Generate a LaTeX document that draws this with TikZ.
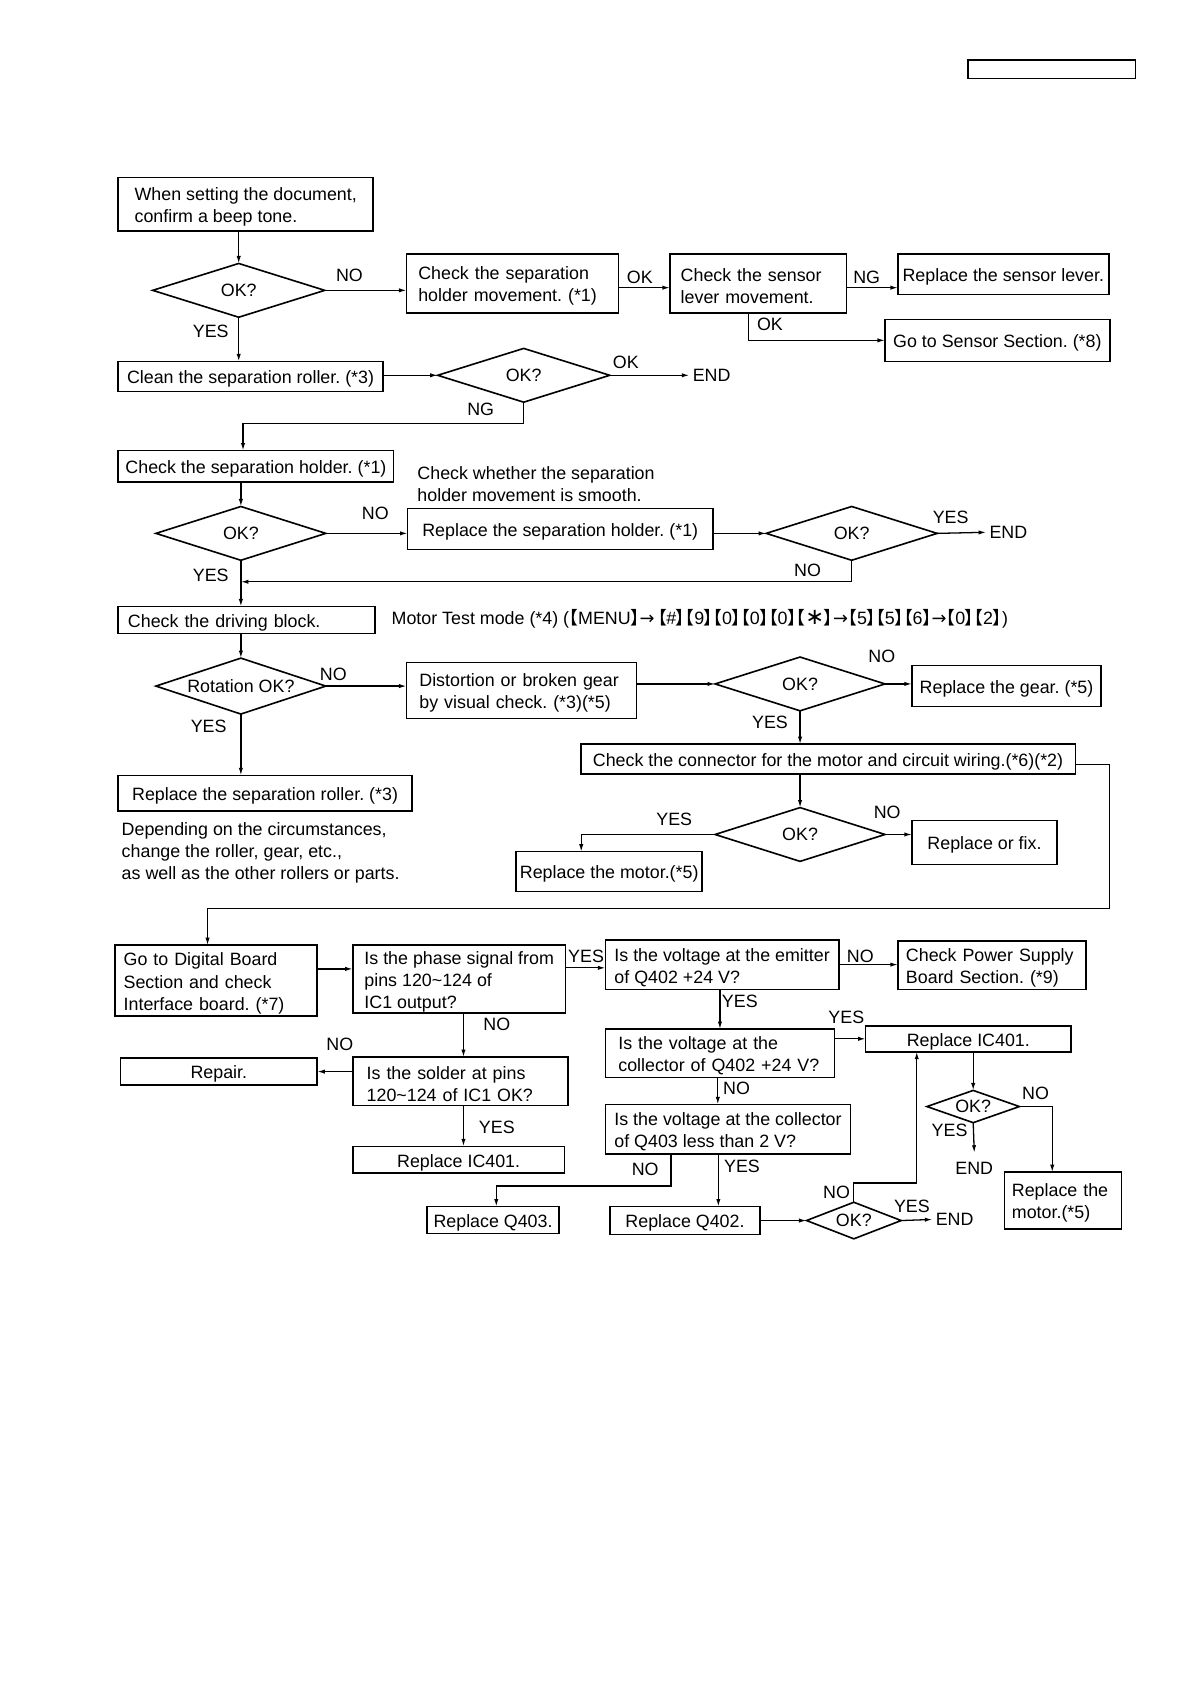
\documentclass[tikz,border=0pt]{standalone}
\usepackage{fontspec}
\setmainfont{Liberation Sans}
\newfontfamily\cjk[RawFeature=+palt]{Noto Sans CJK SC}
\newfontfamily\dejavu{DejaVu Sans}
\usetikzlibrary{arrows.meta}
\usetikzlibrary{shapes.geometric}
\frenchspacing

\newcommand{\keyb}[1]{{\cjk 【}#1{\cjk 】}}
\newcommand{\keyarrow}{{\dejavu →}}
\newcommand{\topstrut}{\rule{0pt}{17pt}}

\tikzset{
  box/.style={draw, line width=1.5pt, anchor=north west, inner xsep=2pt, inner ysep=0pt, outer sep=0pt, align=left,
    execute at begin node={\topstrut}},
  dec/.style={draw, diamond, shape aspect=3, line width=1.5pt, inner sep=0pt, outer sep=0pt},
  lbl/.style={inner sep=0pt},
  flow/.style={->, line width=1.2pt},
}

\begin{document}
\begin{tikzpicture}[x=1pt, y=-1pt, font=\fontsize{16.6}{20.5}\selectfont, >={Latex[length=7pt,width=4pt]}]
    \useasboundingbox (0,0) rectangle (1107,1566);

    \node[box, minimum width=156pt, minimum height=17pt] (hdr) at (900,56) {};

    % document setting and sensor lever
    \node[box, minimum width=237pt, minimum height=50pt] (beep) at (110,165) {\topstrut When setting the document,\\confirm a beep tone.};
    \node[dec, minimum width=160pt, minimum height=50pt] (d1) at (222,270) {OK?};
    \node[box, text width=175pt, inner xsep=11pt, minimum height=55pt] (holdmove) at (378,236) {Check the separation\\holder movement. (*1)};
    \node[box, text width=144pt, inner xsep=10pt, minimum height=55pt] (sensmove) at (623,236) {Check the sensor\\lever movement.};
    \node[box, minimum width=196pt, minimum height=38pt] (senslever) at (835,236) {Replace the sensor lever.};
    \node[box, minimum width=209pt, minimum height=39pt] (senssec) at (823,297) {Go to Sensor Section. (*8)};
    \node[box, minimum width=246pt, minimum height=28pt] (cleanroll) at (110,336) {Clean the separation roller. (*3)};
    \node[dec, minimum width=160pt, minimum height=50pt] (d2) at (487,349) {OK?};
    \node[lbl, inner xsep=3pt, anchor=west] (end1) at (641,349) {END};

    \node[lbl] (no1) at (325,256) {NO};
    \node[lbl] (okt1) at (595,258) {OK};
    \node[lbl] (ng1) at (806,258) {NG};
    \node[lbl] (okt2) at (716,302) {OK};
    \node[lbl] (yes1) at (196,308) {YES};
    \node[lbl] (okt3) at (582,337) {OK};
    \node[lbl] (ng2) at (447,381) {NG};

    \draw[flow] (d1.north |- beep.south) -- (d1.north);
    \draw[flow] (d1.east) -- (d1.east -| holdmove.west);
    \draw[flow] ([yshift=-4pt]holdmove.east) -- ([yshift=-4pt]holdmove.east -| sensmove.west);
    \draw[flow] ([yshift=-4pt]sensmove.east) -- ([yshift=-4pt]sensmove.east -| senslever.west);
    \draw[flow] ([xshift=-9pt]sensmove.south) |- (senssec.west);
    \draw[flow] (d1.south) -- (d1.south |- cleanroll.north);
    \draw[flow] (d2.west -| cleanroll.east) -- (d2.west);
    \draw[flow] (d2.east) -- (end1.west);

    % separation holder
    \node[box, minimum width=256pt, minimum height=29pt] (holdchk) at (110,419) {Check the separation holder. (*1)};
    \node[anchor=north west, align=left, inner sep=0pt] (smooth) at (388,434) {Check whether the separation\\holder movement is smooth.};
    \node[dec, minimum width=158pt, minimum height=50pt] (d3) at (224,496) {OK?};
    \node[box, minimum width=284pt, minimum height=38pt] (holdrepl) at (379,473) {Replace the separation holder. (*1)};
    \node[dec, minimum width=159pt, minimum height=50pt] (d4) at (792,496) {OK?};
    \node[lbl, inner xsep=3pt, anchor=west] (end2) at (917,495) {END};

    \node[lbl] (no2) at (349,477) {NO};
    \node[lbl] (yes2) at (884,481) {YES};
    \node[lbl] (no3) at (751,530) {NO};
    \node[lbl] (yes3) at (196,535) {YES};

    \draw[flow] (d2.south) -- ++(0,20) -| ([xshift=-12pt]holdchk.north);
    \draw[flow] (d3.north |- holdchk.south) -- (d3.north);
    \draw[flow] (d3.east) -- (d3.east -| holdrepl.west);
    \draw[flow] (d4.west -| holdrepl.east) -- (d4.west);
    \draw[flow] (d4.east) -- (end2.west);
    \coordinate (join) at ([yshift=-20pt]d4.south -| d3.south);
    \draw[flow] (d4.south) |- (join);

    % driving block and motor
    \node[box, text width=221pt, inner xsep=9pt, minimum height=25pt] (drive) at (110,564) {Check the driving block.};
    \node[anchor=base west, inner sep=0pt] (testmode) at (364,581) {Motor Test mode (*4) (\keyb{MENU}\keyarrow\,\keyb{\#}\keyb{9}\keyb{0}\keyb{0}\keyb{0}\keyb{{\dejavu\fontsize{21}{21}\selectfont ∗}}\keyarrow\keyb{5}\keyb{5}\keyb{6}\keyarrow\keyb{0}\keyb{2})};
    \node[dec, minimum width=158pt, minimum height=52pt] (d5) at (224,638) {Rotation OK?};
    \node[box, text width=190pt, inner xsep=12pt, minimum height=52pt] (gearvis) at (378,616) {Distortion or broken gear\\by visual check. (*3)(*5)};
    \node[dec, minimum width=158pt, minimum height=50pt] (d6) at (744,636) {OK?};
    \node[box, minimum width=176pt, minimum height=38pt] (gearrepl) at (848,619) {Replace the gear. (*5)};
    \node[box, minimum width=460pt, minimum height=28pt] (conn) at (540,692) {Check the connector for the motor and circuit wiring.(*6)(*2)};
    \node[box, minimum width=273pt, minimum height=33pt] (rollrepl) at (110,721) {Replace the separation roller. (*3)};
    \node[anchor=north west, align=left, inner sep=0pt] (circ) at (113,765) {Depending on the circumstances,\\change the roller, gear, etc.,\\as well as the other rollers or parts.};
    \node[dec, minimum width=158pt, minimum height=50pt] (d7) at (744,776) {OK?};
    \node[box, minimum width=135pt, minimum height=41pt] (fix) at (848,763) {Replace or fix.};
    \node[box, minimum width=173pt, minimum height=37pt] (motorrepl) at (480,792) {Replace the motor.(*5)};

    \node[lbl] (no4) at (820,610) {NO};
    \node[lbl] (no5) at (310,627) {NO};
    \node[lbl] (yes4) at (716,672) {YES};
    \node[lbl] (yes5) at (194,675) {YES};
    \node[lbl] (yes6) at (627,762) {YES};
    \node[lbl] (no6) at (825,755) {NO};

    \draw[flow] (d3.south) -- (d3.south |- drive.north);
    \draw[flow] (d5.north |- drive.south) -- (d5.north);
    \draw[flow] (d5.east) -- (d5.east -| gearvis.west);
    \draw[flow] (d6.west -| gearvis.east) -- (d6.west);
    \draw[flow] (d6.east) -- (d6.east -| gearrepl.west);
    \draw[flow] (d6.south) -- (d6.south |- conn.north);
    \draw[flow] (d7.north |- conn.south) -- (d7.north);
    \draw[flow] (d7.east) -- (d7.east -| fix.west);
    \draw[flow] (d7.west) -| ([xshift=-26pt]motorrepl.north);
    \draw[flow] (d5.south) -- (d5.south |- rollrepl.north);

    % digital board
    \node[box, text width=172pt, inner xsep=8pt, minimum height=66pt] (digi) at (107,879) {Go to Digital Board\\Section and check\\Interface board. (*7)};
    \node[box, minimum width=198pt, minimum height=63pt] (phase) at (328,879) {\topstrut Is the phase signal from\\pins 120\textasciitilde124 of\\IC1 output?};
    \node[box, minimum width=217pt, minimum height=46pt] (emit) at (563,874) {\topstrut Is the voltage at the emitter\\of Q402 +24 V?};
    \node[box, text width=160pt, inner xsep=7.5pt, minimum height=45pt] (psu) at (835,875) {Check Power Supply\\Board Section. (*9)};
    \node[box, text width=174pt, inner xsep=13pt, minimum height=45pt] (solder) at (328,983) {Is the solder at pins\\120\textasciitilde124 of IC1 OK?};
    \node[box, minimum width=183pt, minimum height=25pt] (repair) at (112,984) {Repair.};
    \node[box, minimum width=197pt, minimum height=25pt] (icrepa) at (328,1066) {Replace IC401.};
    \node[box, text width=189pt, inner xsep=12pt, minimum height=45pt] (coll) at (563,957) {Is the voltage at the\\collector of Q402 +24 V?};
    \node[box, minimum width=191pt, minimum height=24pt] (icrepb) at (805,954) {Replace IC401.};
    \node[box, minimum width=228pt, minimum height=46pt] (q403chk) at (563,1027) {\topstrut Is the voltage at the collector\\of Q403 less than 2 V?};
    \node[box, minimum width=123pt, minimum height=25pt] (q403repl) at (397,1122) {Replace Q403.};
    \node[box, minimum width=140pt, minimum height=26pt] (q402repl) at (567,1122) {Replace Q402.};
    \node[dec, minimum width=88pt, minimum height=34pt] (d8) at (794,1135) {OK?};
    \node[lbl, inner xsep=3pt, anchor=west] (end3) at (867,1134) {END};
    \node[dec, minimum width=86pt, minimum height=30pt] (d9) at (905,1029) {OK?};
    \node[lbl, inner ysep=9pt, anchor=north] (end4) at (906,1072) {END};
    \node[box, text width=95pt, inner xsep=7pt, minimum height=53pt] (motorreplb) at (934,1090) {Replace the\\motor.(*5)};

    \node[lbl] (yes7) at (545,889) {YES};
    \node[lbl] (no7) at (800,889) {NO};
    \node[lbl] (yes8) at (688,931) {YES};
    \node[lbl] (no8) at (462,953) {NO};
    \node[lbl] (yes9) at (787,946) {YES};
    \node[lbl] (no9) at (316,971) {NO};
    \node[lbl] (no10) at (963,1017) {NO};
    \node[lbl] (no11) at (685,1012) {NO};
    \node[lbl] (yes10) at (462,1048) {YES};
    \node[lbl] (yes11) at (883,1051) {YES};
    \node[lbl] (no12) at (600,1087) {NO};
    \node[lbl] (yes12) at (690,1085) {YES};
    \node[lbl] (no13) at (778,1109) {NO};
    \node[lbl] (yes13) at (848,1122) {YES};

    \coordinate (back) at (1032,845);
    \draw[flow] ([yshift=-5pt]conn.east) -| (back) -| ([xshift=-8pt]digi.north);
    \draw[flow] ([yshift=11pt]digi.east) -- ([yshift=11pt]digi.east -| phase.west);
    \draw[flow] ([yshift=-3pt]emit.west -| phase.east) -- ([yshift=-3pt]emit.west);
    \draw[flow] (emit.east) -- (emit.east -| psu.west);
    \draw[flow] (coll.north |- emit.south) -- (coll.north);
    \draw[flow] (icrepb.west -| coll.east) -- (icrepb.west);
    \draw[flow] ([xshift=-2pt]coll.south) -- ([xshift=-2pt]coll.south |- q403chk.north);
    \draw[flow] ([xshift=-53pt]q403chk.south) -- ++(0,30) -| ([xshift=3pt]q403repl.north);
    \draw[flow] ([xshift=-9pt]q403chk.south) -- ([xshift=-9pt]q403chk.south |- q402repl.north);
    \draw[flow] (q402repl.east) -- (d8.west);
    \draw[flow] (d8.east) -- (end3.west);
    \draw[flow] (d8.north) -- ++(0,-18) -| ([xshift=-48pt]icrepb.south);
    \draw[flow] (d9.north |- icrepb.south) -- (d9.north);
    \draw[flow] (d9.east) -| ([xshift=-10pt]motorreplb.north);
    \draw[flow] (d9.south) -- (end4.north);
    \draw[flow] ([xshift=4pt]phase.south) -- ([xshift=4pt]phase.south |- solder.north);
    \draw[flow] (repair.east -| solder.west) -- (repair.east);
    \draw[flow] ([xshift=3pt]solder.south) -- ([xshift=3pt]solder.south |- icrepa.north);
\end{tikzpicture}
\end{document}
